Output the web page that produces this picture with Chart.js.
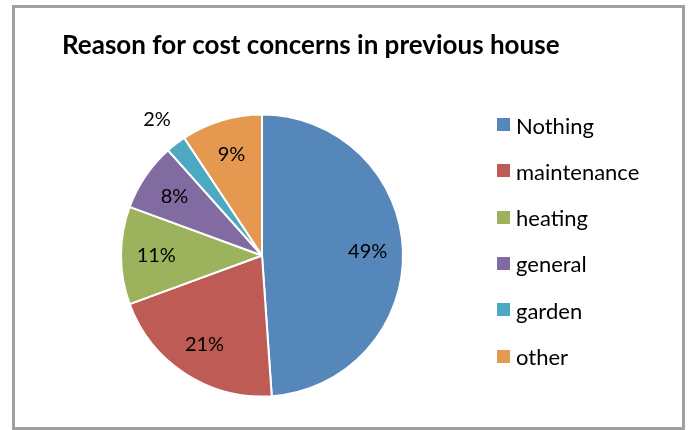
<!DOCTYPE html>
<html>
<head>
<meta charset="utf-8">
<script src="https://cdn.jsdelivr.net/npm/chart.js@4.4.1/dist/chart.umd.min.js"></script>
<style>
    html, body { margin: 0; padding: 0; background: #fff; }
    #frame {
        position: absolute;
        left: 12px; top: 5px;
        width: 673px; height: 425px;
        box-sizing: border-box;
        border: 3px solid #a0a0a0;
    }
    #wrap { position: absolute; left: 0; top: 0; width: 689px; height: 430px; }
</style>
</head>
<body>
<div id="frame"></div>
<div id="wrap"><canvas id="pieChart" width="689" height="430"></canvas></div>
<script>
// Chart data
const chartTitle = 'Reason for cost concerns in previous house';
const categories = ['Nothing', 'maintenance', 'heating', 'general', 'garden', 'other'];
const shares = [48.9, 20.5, 11.2, 7.8, 2.3, 9.3];
const sliceColors = ['#5587BA', '#BD5B54', '#9CB25D', '#826BA0', '#4DA9C1', '#E59950'];

const FONT = 'Lato, "Open Sans", sans-serif';

// Percent labels on the slices, small slices get pushed outside
const sliceLabels = {
    id: 'sliceLabels',
    afterDatasetsDraw(chart) {
        const ctx = chart.ctx;
        const meta = chart.getDatasetMeta(0);
        const total = shares.reduce((a, b) => a + b, 0);
        ctx.save();
        ctx.font = '20px ' + FONT;
        ctx.fillStyle = '#000';
        ctx.textAlign = 'center';
        ctx.textBaseline = 'middle';
        meta.data.forEach((arc, i) => {
            const p = arc.getProps(['x', 'y', 'startAngle', 'endAngle', 'outerRadius'], true);
            const mid = (p.startAngle + p.endAngle) / 2;
            const span = p.endAngle - p.startAngle;
            const k = span < 0.2 ? 1.22 : 0.75;
            const lx = p.x + Math.cos(mid) * p.outerRadius * k;
            const ly = p.y + Math.sin(mid) * p.outerRadius * k;
            ctx.fillText(Math.round(shares[i] / total * 100) + '%', lx, ly);
        });
        ctx.restore();
    }
};

// Title and legend drawn at fixed spots, like the Excel layout
const titleAndLegend = {
    id: 'titleAndLegend',
    afterDraw(chart) {
        const ctx = chart.ctx;
        ctx.save();
        ctx.fillStyle = '#000';
        ctx.textAlign = 'left';
        ctx.textBaseline = 'alphabetic';
        ctx.font = 'bold 26px ' + FONT;
        ctx.fillText(chartTitle, 62, 54);

        ctx.font = '22px ' + FONT;
        categories.forEach((name, i) => {
            const cy = 124.5 + i * 46.3;
            ctx.fillStyle = sliceColors[i];
            ctx.fillRect(497, Math.round(cy - 6.5), 13, 13);
            ctx.fillStyle = '#000';
            ctx.fillText(name, 516, cy + 9);
        });
        ctx.restore();
    }
};

new Chart(document.getElementById('pieChart').getContext('2d'), {
    type: 'pie',
    data: {
        labels: categories,
        datasets: [{
            data: shares,
            backgroundColor: sliceColors,
            borderColor: '#ffffff',
            borderWidth: 2
        }]
    },
    options: {
        responsive: false,
        animation: false,
        layout: {
            padding: { left: 120, right: 285, top: 113, bottom: 32 }
        },
        plugins: {
            legend: { display: false },
            title: { display: false },
            tooltip: { enabled: false }
        }
    },
    plugins: [sliceLabels, titleAndLegend]
});
</script>
</body>
</html>
